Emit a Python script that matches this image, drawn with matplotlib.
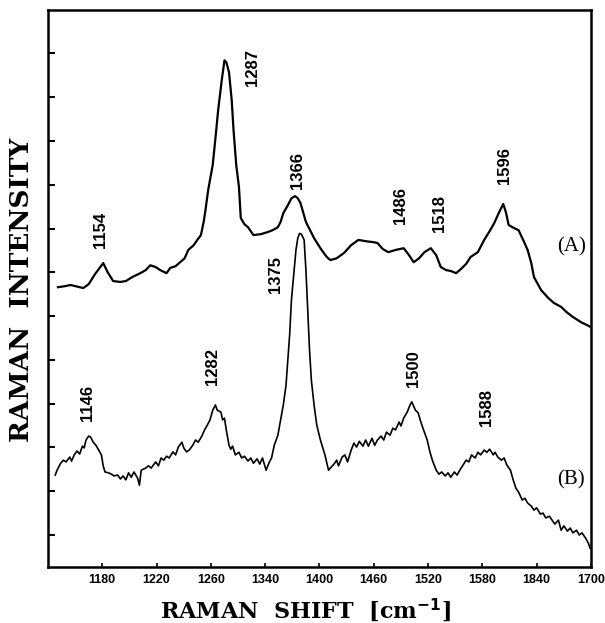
import numpy as np
import matplotlib
matplotlib.use("Agg")
from matplotlib import pyplot as plt

# spectrum (A): Raman shift [cm-1], intensity (arb. units)
shift_a = [1111, 1118, 1125, 1131, 1139, 1145, 1152, 1161, 1166, 1172, 1180, 1186,
           1193, 1202, 1208, 1213, 1219, 1224, 1231, 1235, 1241, 1246, 1251, 1255,
           1261, 1265, 1269, 1272, 1274, 1277, 1282, 1285, 1288, 1292, 1295, 1297,
           1300, 1303, 1305, 1308, 1311, 1313, 1317, 1321, 1327, 1335, 1343, 1348,
           1354, 1357, 1360, 1365, 1369, 1373, 1376, 1379, 1385, 1394, 1401, 1408,
           1412, 1419, 1427, 1435, 1443, 1451, 1459, 1464, 1470, 1476, 1484, 1493,
           1499, 1504, 1510, 1516, 1523, 1529, 1534, 1540, 1545, 1551, 1556, 1562,
           1567, 1575, 1582, 1588, 1593, 1598, 1603, 1606, 1609, 1615, 1620, 1625,
           1630, 1634, 1637, 1645, 1653, 1659, 1667, 1673, 1680, 1689, 1698, 1700]
int_a = [5.66, 5.68, 5.71, 5.68, 5.64, 5.73, 5.96, 6.21, 6.00, 5.80, 5.78, 5.80,
         5.89, 5.98, 6.05, 6.16, 6.12, 6.05, 5.98, 6.10, 6.14, 6.23, 6.32, 6.51,
         6.62, 6.74, 6.85, 7.15, 7.42, 7.88, 8.45, 9.06, 9.70, 10.39, 10.84, 10.80,
         10.57, 9.93, 9.25, 8.45, 7.95, 7.24, 7.10, 7.03, 6.85, 6.87, 6.92, 6.96,
         7.03, 7.15, 7.35, 7.53, 7.69, 7.74, 7.69, 7.58, 7.15, 6.78, 6.55, 6.35,
         6.28, 6.32, 6.44, 6.62, 6.74, 6.71, 6.69, 6.67, 6.53, 6.46, 6.51, 6.55,
         6.39, 6.23, 6.32, 6.46, 6.55, 6.39, 6.12, 6.05, 6.03, 5.98, 6.07, 6.19,
         6.35, 6.46, 6.74, 6.94, 7.12, 7.35, 7.56, 7.37, 7.08, 7.01, 6.96, 6.74,
         6.51, 6.21, 5.89, 5.59, 5.41, 5.30, 5.21, 5.09, 4.98, 4.86, 4.77, 4.74]

# spectrum (B)
shift_b = [1108, 1110, 1114, 1117, 1120, 1124, 1126, 1129, 1132, 1135, 1138, 1140,
           1142, 1145, 1147, 1150, 1153, 1156, 1159, 1161, 1163, 1167, 1170, 1173,
           1177, 1180, 1183, 1186, 1189, 1192, 1195, 1199, 1201, 1203, 1208, 1211,
           1214, 1219, 1222, 1225, 1228, 1231, 1234, 1238, 1241, 1244, 1248, 1250,
           1253, 1256, 1260, 1263, 1266, 1270, 1273, 1276, 1279, 1282, 1285, 1287,
           1291, 1293, 1295, 1297, 1300, 1302, 1304, 1307, 1311, 1314, 1317, 1321,
           1324, 1327, 1331, 1334, 1337, 1341, 1344, 1347, 1350, 1354, 1357, 1360,
           1363, 1365, 1367, 1369, 1372, 1374, 1376, 1378, 1380, 1383, 1385, 1387,
           1389, 1391, 1394, 1397, 1401, 1406, 1410, 1412, 1416, 1419, 1421, 1425,
           1428, 1431, 1435, 1438, 1441, 1444, 1448, 1451, 1454, 1458, 1461, 1464,
           1468, 1471, 1474, 1478, 1481, 1484, 1488, 1490, 1493, 1497, 1500, 1502,
           1506, 1509, 1512, 1515, 1519, 1522, 1525, 1529, 1532, 1535, 1539, 1542,
           1545, 1549, 1552, 1555, 1558, 1562, 1565, 1568, 1572, 1575, 1578, 1582,
           1585, 1588, 1592, 1594, 1597, 1601, 1604, 1607, 1611, 1614, 1617, 1620,
           1624, 1627, 1630, 1634, 1637, 1640, 1644, 1647, 1650, 1654, 1657, 1660,
           1664, 1667, 1670, 1674, 1677, 1680, 1684, 1687, 1690, 1694, 1697, 1699]
int_b = [1.37, 1.48, 1.64, 1.71, 1.67, 1.78, 1.69, 1.83, 1.92, 1.85, 2.03, 1.99,
         2.17, 2.26, 2.24, 2.12, 2.05, 1.94, 1.83, 1.58, 1.44, 1.42, 1.39, 1.35,
         1.37, 1.28, 1.35, 1.26, 1.42, 1.32, 1.44, 1.30, 1.14, 1.48, 1.53, 1.58,
         1.53, 1.67, 1.58, 1.76, 1.71, 1.80, 1.76, 1.90, 1.83, 2.01, 2.12, 1.99,
         1.90, 1.94, 2.05, 2.17, 2.12, 2.26, 2.40, 2.51, 2.63, 2.85, 2.97, 2.85,
         2.81, 2.63, 2.67, 2.40, 2.05, 1.96, 2.03, 1.83, 1.89, 1.76, 1.80, 1.69,
         1.76, 1.64, 1.74, 1.62, 1.76, 1.48, 1.64, 1.76, 2.05, 2.28, 2.63, 2.97,
         3.42, 4.00, 4.57, 5.37, 6.05, 6.51, 6.78, 6.89, 6.87, 6.74, 6.05, 5.14,
         4.22, 3.54, 2.97, 2.51, 2.17, 1.83, 1.48, 1.53, 1.62, 1.71, 1.58, 1.78,
         1.83, 1.67, 1.94, 2.10, 2.01, 2.14, 2.03, 2.17, 2.03, 2.21, 2.05, 2.17,
         2.26, 2.17, 2.35, 2.28, 2.44, 2.40, 2.58, 2.49, 2.67, 2.81, 2.97, 3.04,
         2.85, 2.79, 2.58, 2.40, 2.17, 1.90, 1.69, 1.48, 1.39, 1.44, 1.35, 1.42,
         1.32, 1.44, 1.37, 1.48, 1.58, 1.71, 1.67, 1.83, 1.76, 1.89, 1.83, 1.94,
         1.89, 1.96, 1.83, 1.89, 1.78, 1.71, 1.76, 1.60, 1.48, 1.26, 1.07, 0.98,
         0.80, 0.84, 0.73, 0.66, 0.57, 0.62, 0.48, 0.50, 0.39, 0.43, 0.34, 0.25,
         0.34, 0.11, 0.21, 0.09, 0.16, 0.05, 0.11, 0.00, 0.05, -0.07, -0.18, -0.30]

peaks_a = ["1154", "1287", "1366", "1486", "1518", "1596"]
peaks_b = ["1146", "1282", "1375", "1500", "1588"]
xtick_pos = [1160, 1220, 1280, 1340, 1400, 1460, 1520, 1580, 1640, 1700]
xtick_text = ["1180", "1220", "1260", "1340", "1400", "1460", "1520", "1580", "1840", "1700"]

# where the peak labels sit (data coords)
pos_a = [(1158, 6.96), (1326, 10.68), (1376, 8.33), (1490, 7.53), (1533, 7.35), (1604, 8.45)]
pos_b = [(1144, 3.01), (1282, 3.84), (1351, 5.96), (1504, 3.79), (1584, 2.92)]

fig = plt.figure(figsize=(6.05, 6.23), dpi=100)
ax = fig.add_axes([48 / 605, 1 - 567 / 623, 543 / 605, 557 / 623])

ax.plot(shift_a, int_a, color="black", lw=1.6)
ax.plot(shift_b, int_b, color="black", lw=1.2)

ax.set_xlim(1100, 1700)
ax.set_ylim(-0.73, 11.99)

ax.set_xticks(xtick_pos)
ax.set_xticklabels(xtick_text, fontfamily="Liberation Sans", fontweight="bold", fontsize=9)
ax.set_yticks(np.arange(0, 12))
ax.set_yticklabels([])
ax.tick_params(axis="x", direction="in", length=3, width=1.2, pad=5)
ax.tick_params(axis="y", direction="in", length=5, width=1.5)
for s in ax.spines.values():
    s.set_linewidth(1.8)

for t, (x, y) in zip(peaks_a + peaks_b, pos_a + pos_b):
    ax.text(x, y, t, rotation=90, ha="center", va="center",
            fontfamily="Liberation Sans", fontweight="bold", fontsize=12)

ax.text(1678, 6.58, "(A)", ha="center", va="center", fontfamily="Liberation Serif", fontsize=15)
ax.text(1678, 1.26, "(B)", ha="center", va="center", fontfamily="Liberation Serif", fontsize=15)

fig.text(22 / 605, 1 - 290 / 623, "RAMAN  INTENSITY", rotation=90, ha="center", va="center",
         fontfamily="DejaVu Serif", fontweight="bold", fontsize=19)
fig.text(305 / 605, 1 - 610 / 623, "RAMAN  SHIFT  [cm$^{\\mathbf{-1}}$]", ha="center", va="center",
         fontfamily="DejaVu Serif", fontweight="bold", fontsize=16)

plt.savefig("out.png", dpi=100)
